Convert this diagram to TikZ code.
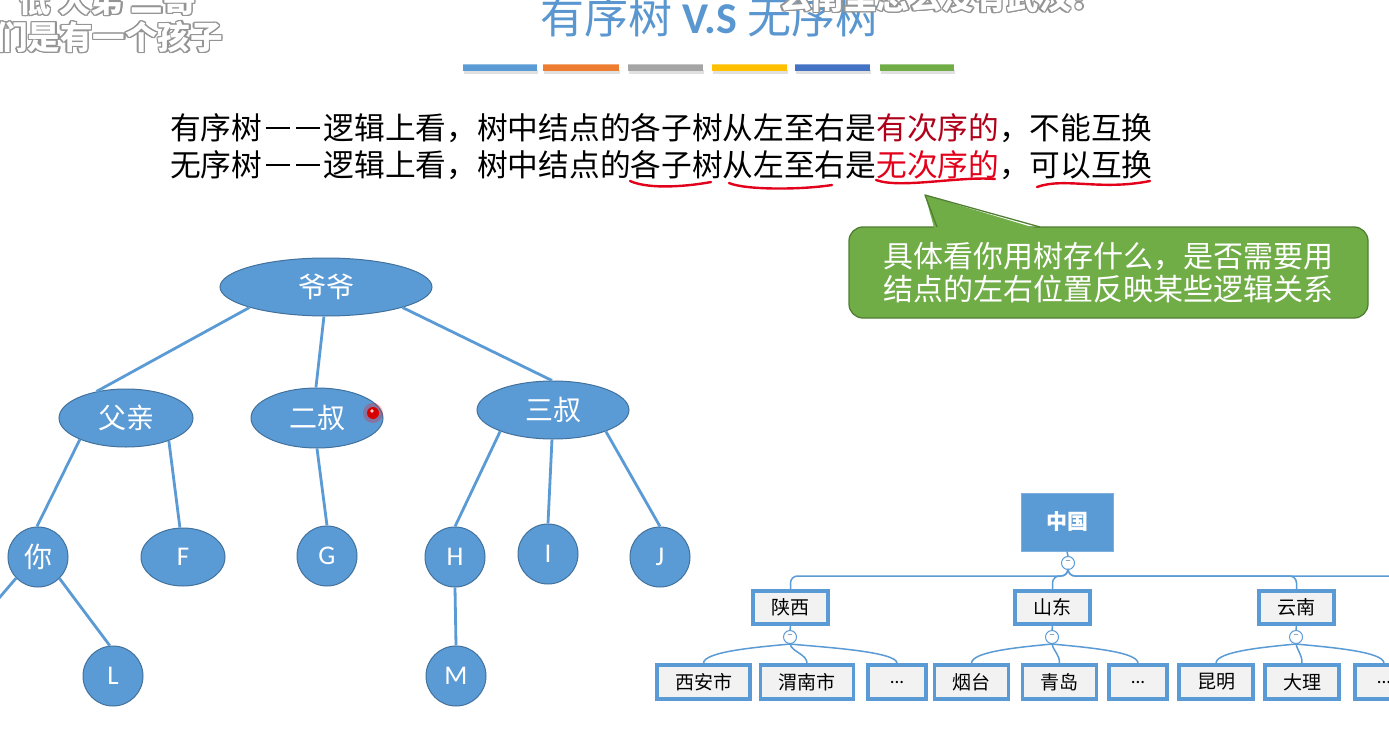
\documentclass[tikz,border=0pt]{standalone}
\usepackage{fontspec}
\setmainfont{Noto Sans CJK SC}
\newfontfamily\lat{Carlito}
\usetikzlibrary{shapes.geometric}
\definecolor{nblue}{HTML}{5B9BD5}
\definecolor{nedge}{HTML}{41719C}
\definecolor{tblue}{HTML}{5A96CF}
\definecolor{cgreen}{HTML}{70AD47}
\definecolor{cgedge}{HTML}{507E32}
\definecolor{dred}{HTML}{B0001A}
\definecolor{ured}{HTML}{E3001B}
\definecolor{lgray}{HTML}{F2F2F2}
\definecolor{barA}{HTML}{5B9BD5}
\definecolor{barB}{HTML}{ED7D31}
\definecolor{barC}{HTML}{A5A5A5}
\definecolor{barD}{HTML}{FFC000}
\definecolor{barE}{HTML}{4472C4}
\definecolor{barF}{HTML}{70AD47}
\newcommand\ddash{\makebox[1em][c]{\rule[0.34em]{0.78em}{0.075em}}\makebox[1em][c]{\rule[0.34em]{0.78em}{0.075em}}}
\begin{document}
\begin{tikzpicture}[x=1pt,y=-1pt,
  tn/.style={ellipse, draw=nedge, line width=1pt, fill=nblue, text=white, inner sep=0pt, font=\fontsize{28}{30}\selectfont},
  tc/.style={tn, minimum width=60, minimum height=60, font=\lat\fontsize{27}{30}\selectfont},
  te/.style={draw=nblue, line width=2.8pt},
  captxt/.style={font=\bfseries\fontsize{32.5}{34}\selectfont, inner sep=0pt},
  ob/.style={draw=nblue, line width=3.5pt, fill=lgray, inner sep=0pt, minimum height=34, font=\fontsize{19}{20}\selectfont},
  pb/.style={ob, minimum width=75, minimum height=33},
  lb/.style={ob, minimum width=93},
  sb/.style={ob, minimum width=74},
  db/.style={ob, minimum width=58},
  mc/.style={circle, draw=nblue, line width=1pt, fill=white, minimum size=13, inner sep=0pt, text=nedge, font=\fontsize{9}{9}\selectfont},
  oc/.style={draw=nblue, line width=1.5pt},
  uline/.style={draw=ured, line width=2.4pt, line cap=round}
]
\useasboundingbox (0,0) rectangle (1389,754);
\clip (0,0) rectangle (1389,754);
\fill[white] (0,0) rectangle (1389,754);

% title
\node[font=\fontsize{44}{46}\selectfont, text=tblue, inner sep=0pt] (title) at (710,17) {有序树 {\lat\bfseries V.S} 无序树};

% colour bars
\foreach \xa/\xb/\c in {463/537/barA,543/619/barB,628/703/barC,712/787/barD,795/870/barE,880/954/barF}{
  \fill[black!12] (\xa+1,70) rectangle (\xb+1,74);
  \fill[\c] (\xa,64) rectangle (\xb,71);
  \fill[white,opacity=0.35] (\xa,64) rectangle (\xb,65.5);
}

% caption overlays
\foreach \a in {0,30,...,330}{
  \node[captxt, text=black!42, anchor=east, xshift={1.4*cos(\a)}, yshift={1.4*sin(\a)}] at (223,37) {们是有一个孩子};
  \node[captxt, text=black!42, anchor=east, xshift={1.4*cos(\a)}, yshift={1.4*sin(\a)}] at (196,0) {低 大弟 二哥};
  \node[captxt, text=black!42, anchor=west, xshift={1.4*cos(\a)}, yshift={1.4*sin(\a)}] at (779,-3) {么南里怎么没有武汉？};
}
\node[captxt, text=white, anchor=east] (capA) at (223,37) {们是有一个孩子};
\node[captxt, text=white, anchor=east] (capB) at (196,0) {低 大弟 二哥};
\node[captxt, text=white, anchor=west] (capC) at (779,-3) {么南里怎么没有武汉？};

% definitions text
\node[anchor=west, inner sep=0pt, font=\fontsize{30.7}{32}\selectfont] (l1) at (170,128) {有序树\ddash 逻辑上看，树中结点的各子树从左至右是\textcolor{dred}{有次序的}，不能互换};
\node[anchor=west, inner sep=0pt, font=\fontsize{30.7}{32}\selectfont] (l2) at (170,165) {无序树\ddash 逻辑上看，树中结点的各子树从左至右是\textcolor{ured}{无次序的}，可以互换};

% red hand underlines
\draw[uline] (630,181) .. controls (650,190) and (690,186) .. (711,182);
\draw[uline] (729,183) .. controls (745,190) and (800,190) .. (832,185);
\draw[uline] (876,180) .. controls (900,189) and (960,176) .. (995,179);
\draw[uline] (1037,187) .. controls (1065,177) and (1100,191) .. (1150,181);

% callout
\node[draw=cgedge, line width=1.3pt, fill=cgreen, rounded corners=14, minimum width=519, minimum height=91, align=center, text=white, inner sep=0pt, font=\fontsize{30}{33}\selectfont] (cb) at (1108.5,272.5) {具体看你用树存什么，是否需要用\\结点的左右位置反映某些逻辑关系};
\fill[cgreen] (935,231) -- (925,195) -- (1045,231) -- cycle;
\draw[cgedge, line width=1.3pt, line join=round] (937,227) -- (925,195) -- (1040,227);

% tree nodes
\node[tn, minimum width=212, minimum height=58] (yy) at (326,287) {爷爷};
\node[tn, minimum width=134, minimum height=58] (fq) at (126,418) {父亲};
\node[tn, minimum width=132, minimum height=60] (es) at (317,418) {二叔};
\node[tn, minimum width=152, minimum height=58] (ss) at (553,410) {三叔};
\node[tn, minimum width=60, minimum height=60] (ni) at (38,557) {你};
\node[tc, minimum width=84, minimum height=58] (nF) at (183,557) {F};
\node[tc] (nG) at (327,556) {G};
\node[tc] (nH) at (455,557) {H};
\node[tc] (nI) at (548,554) {I};
\node[tc] (nJ) at (660,557) {J};
\node[tc] (nL) at (113,676) {L};
\node[tc] (nM) at (456,676) {M};
\coordinate (off) at (-12,611);

% tree edges
\draw[te] (yy.195) -- (fq.138);
\draw[te] (yy.266) -- (es.92);
\draw[te] (yy.345) -- (ss.92);
\draw[te] (fq.205) -- (ni.92);
\draw[te] (fq.332) -- (nF.96);
\draw[te] (es.270) -- (nG.90);
\draw[te] (ss.202) -- (nH.90);
\draw[te] (ss.268) -- (nI.90);
\draw[te] (ss.338) -- (nJ.90);
\draw[te] (ni.224) -- (off);
\draw[te] (ni.315) -- (nL.96);
\draw[te] (nH.270) -- (nM.90);

% laser pointer dot
\fill[red, opacity=0.25] (373,413) circle (10);
\fill[red!85!black] (373,413) circle (6);
\fill[white!80!red] (372,411) circle (1.8);

% org chart
\node[fill=nblue, draw=nblue!80!white, line width=1pt, minimum width=92, minimum height=58, inner sep=0pt, text=white, font=\bfseries\fontsize{21}{22}\selectfont] (zg) at (1067,522) {中国};
\node[mc] (mz) at (1068,563) {−};
\node[pb] (sx) at (790.5,607.5) {陕西};
\node[pb] (sd) at (1052.5,607.5) {山东};
\node[pb] (yn) at (1296.5,607.5) {云南};
\coordinate (xx) at (1430,592);
\node[mc] (m1) at (790,637) {−};
\node[mc] (m2) at (1052,637) {−};
\node[mc] (m3) at (1296,637) {−};
\node[lb] (xa) at (703.5,682) {西安市};
\node[lb] (wn) at (807,682) {渭南市};
\node[db] (d1) at (897,682) {\lat ...};
\node[sb] (yt) at (971.5,682) {烟台};
\node[sb] (qd) at (1059.5,682) {青岛};
\node[db] (d2) at (1138,682) {\lat ...};
\node[sb] (km) at (1216,682) {昆明};
\node[sb] (dl) at (1302,682) {大理};
\node[db] (d3) at (1384,682) {\lat ...};

\draw[oc] (zg.south) -- (mz.north);
\foreach \c in {sx,sd,yn,xx}{
  \draw[oc, rounded corners=7] (mz.south) -- ++(0,6) -| (\c.north);
}
\draw[oc] (sx.south) -- (m1.north);
\draw[oc] (sd.south) -- (m2.north);
\draw[oc] (yn.south) -- (m3.north);
\foreach \m/\a/\b/\c in {m1/xa/wn/d1, m2/yt/qd/d2, m3/km/dl/d3}{
  \draw[oc] (\m.south) .. controls +(-30,3) and +(0,-12) .. (\a.north);
  \draw[oc] (\m.south) .. controls +(2,8) and +(0,-9) .. (\b.north);
  \draw[oc] (\m.south) .. controls +(30,3) and +(0,-12) .. (\c.north);
}
\end{tikzpicture}
\end{document}
